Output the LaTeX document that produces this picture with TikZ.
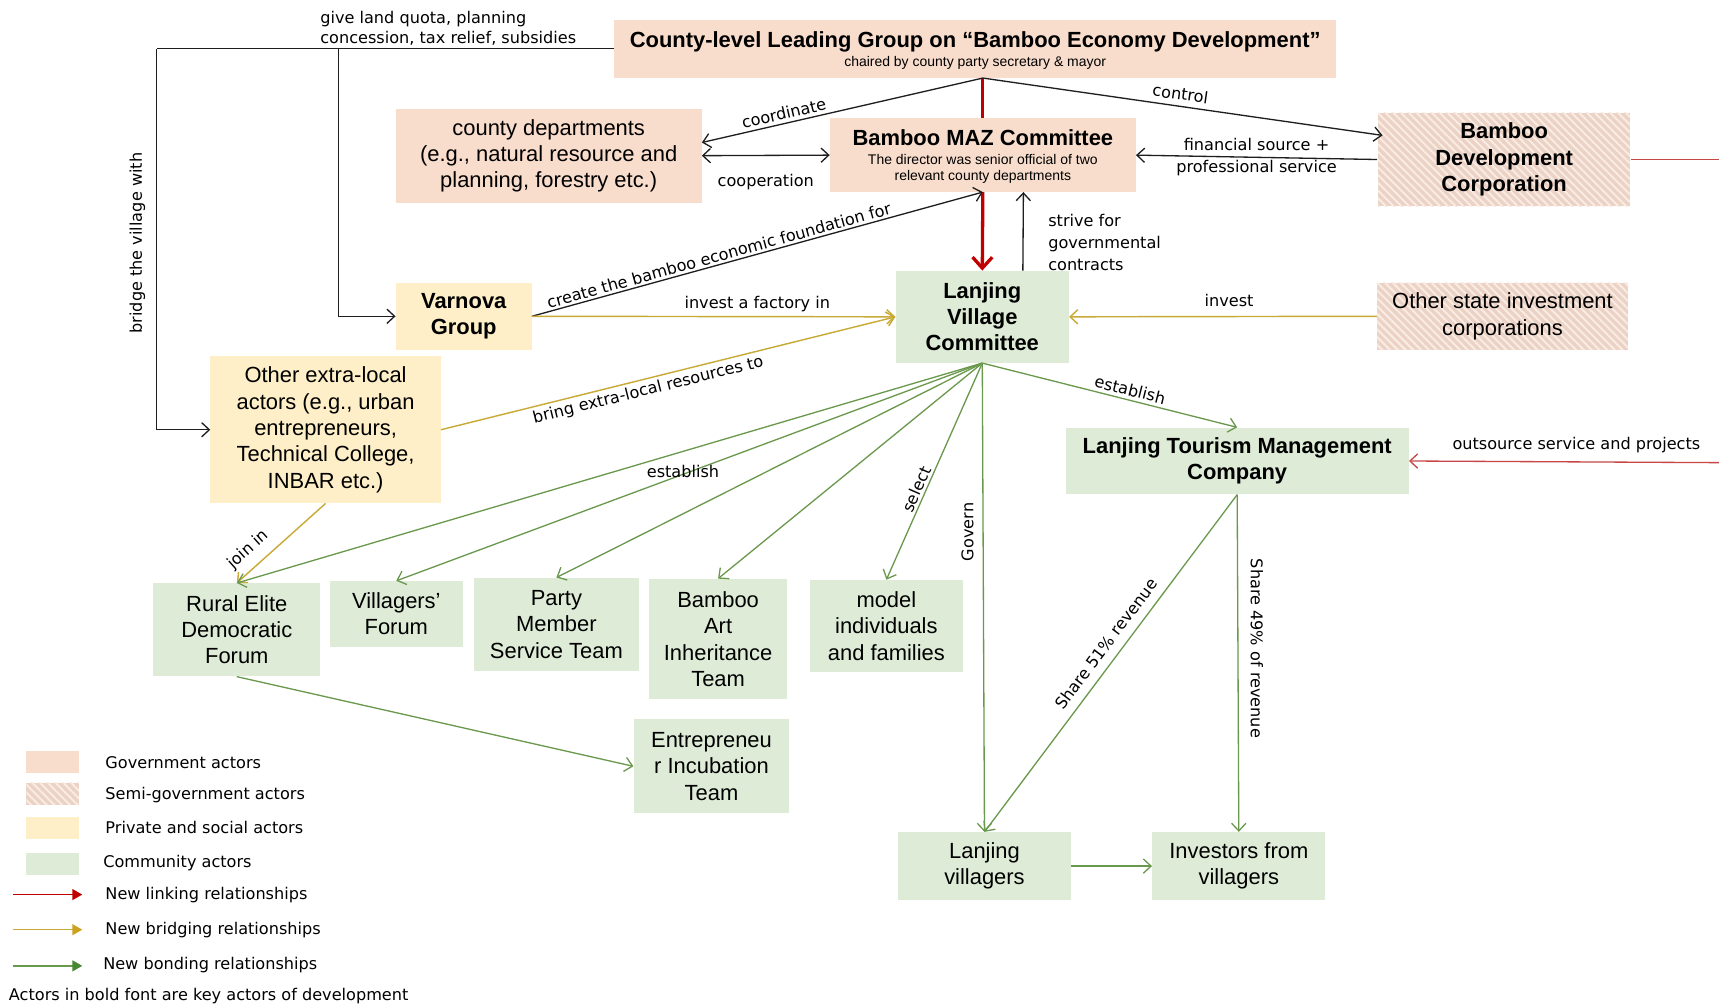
\documentclass[tikz,border=0pt]{standalone}
\usepackage{fontspec}
\setmainfont{Liberation Sans}
\newfontfamily\lblfont{DejaVu Sans}
\usetikzlibrary{arrows.meta,patterns.meta,calc}

\definecolor{govfill}{RGB}{249,221,204}
\definecolor{semibase}{RGB}{236,210,196}
\definecolor{semistripe}{RGB}{248,236,229}
\definecolor{privfill}{RGB}{254,239,200}
\definecolor{commfill}{RGB}{222,236,215}
\definecolor{lineblk}{RGB}{30,30,30}
\definecolor{grnline}{RGB}{106,153,78}
\definecolor{ylwline}{RGB}{200,170,55}
\definecolor{redthickc}{RGB}{192,0,0}
\definecolor{redthinc}{RGB}{200,70,70}
\definecolor{legred}{RGB}{192,0,0}
\definecolor{legylw}{RGB}{205,160,30}
\definecolor{leggrn}{RGB}{70,135,50}

\begin{document}
\begin{tikzpicture}[x=1pt,y=-1pt,
  box/.style={draw=none, align=center, inner sep=0pt, font=\fontsize{20}{24}\selectfont},
  gov/.style={box, fill=govfill},
  semi/.style={box, preaction={fill=semibase}, pattern={Lines[angle=-45,distance=5pt,line width=1.8pt]}, pattern color=semistripe},
  priv/.style={box, fill=privfill},
  comm/.style={box, fill=commfill},
  keyactor/.style={font=\bfseries\fontsize{20}{24}\selectfont},
  lbl/.style={font=\lblfont\fontsize{14.7}{19}\selectfont, inner sep=3pt, text=black},
  endarrow/.style={-{Straight Barb[length=7pt,width=13pt]}},
  blk/.style={draw=lineblk, line width=1.2pt},
  grn/.style={draw=grnline, line width=1.2pt, endarrow},
  ylw/.style={draw=ylwline, line width=1.3pt, endarrow},
  redthin/.style={draw=redthinc, line width=1.2pt},
  redthick/.style={draw=redthickc, line width=3pt},
  legbox/.style={minimum width=48pt, minimum height=20pt},
  legtext/.style={font=\lblfont\fontsize{14.7}{18}\selectfont, anchor=west, inner sep=0pt}
]
\fill[white] (0,0) rectangle (1568,918);
\useasboundingbox (0,0) rectangle (1568,918);

% ---------- actors ----------
\node[gov, minimum width=659pt, minimum height=53pt] (county) at (889.5,44.5) {};
\node[inner sep=0pt, font=\bfseries\fontsize{20}{24}\selectfont] (countyT) at (889.5,38)
  {County-level Leading Group on “Bamboo Economy Development”};
\node[inner sep=0pt, font=\fontsize{12.75}{15}\selectfont] (countyS) at (889.5,57.5)
  {chaired by county party secretary \& mayor};

\node[gov, minimum width=279pt, minimum height=86pt] (cdep) at (500.5,142)
  {county departments\\(e.g., natural resource and\\planning, forestry etc.)};

\node[gov, minimum width=279pt, minimum height=67pt] (maz) at (896.5,141.5) {};
\node[inner sep=0pt, font=\bfseries\fontsize{20}{24}\selectfont] (mazT) at (896.5,126) {Bamboo MAZ Committee};
\node[inner sep=0pt, align=center, font=\fontsize{12.75}{15}\selectfont] (mazS) at (896.5,154)
  {The director was senior official of two\\relevant county departments};

\node[semi, keyactor, minimum width=230pt, minimum height=85pt] (bdc) at (1372,145.5)
  {Bamboo\\Development\\Corporation};

\node[priv, keyactor, minimum width=124pt, minimum height=61pt] (varnova) at (423,288.5)
  {Varnova\\Group};

\node[comm, keyactor, minimum width=158pt, minimum height=84pt] (lvc) at (896,289)
  {Lanjing\\Village\\Committee};

\node[semi, minimum width=229pt, minimum height=61pt] (ostate) at (1370.5,288.5)
  {Other state investment\\corporations};

\node[priv, minimum width=210pt, minimum height=134pt] (extra) at (297,392)
  {Other extra-local\\actors (e.g., urban\\entrepreneurs,\\Technical College,\\INBAR etc.)};

\node[comm, keyactor, minimum width=313pt, minimum height=61pt] (ltmc) at (1128.5,420.5)
  {Lanjing Tourism Management\\Company};

\node[comm, minimum width=152pt, minimum height=85pt] (rural) at (216,574.5)
  {Rural Elite\\Democratic\\Forum};
\node[comm, minimum width=121pt, minimum height=60pt] (vforum) at (361.5,560)
  {Villagers’\\Forum};
\node[comm, minimum width=151pt, minimum height=85pt] (party) at (507.5,569.5)
  {Party\\Member\\Service Team};
\node[comm, minimum width=126pt, minimum height=110pt] (bart) at (655,583)
  {Bamboo\\Art\\Inheritance\\Team};
\node[comm, minimum width=139pt, minimum height=84pt] (model) at (808.5,571)
  {model\\individuals\\and families};
\node[comm, minimum width=142pt, minimum height=86pt] (entre) at (649,699)
  {Entrepreneu\\r Incubation\\Team};
\node[comm, minimum width=158pt, minimum height=62pt] (lvill) at (898,790)
  {Lanjing\\villagers};
\node[comm, minimum width=158pt, minimum height=62pt] (inv) at (1130,790)
  {Investors from\\villagers};

% ---------- county leading group: policy support ----------
\coordinate (lt) at (143,44.5);
\coordinate (vt) at (309,44.5);
\coordinate (ltb) at (lt |- extra.west);
\coordinate (cbot) at (maz.north |- county.south);
\draw[blk] (county.west) -- (lt);
\draw[blk, endarrow] (lt) -- node[lbl, pos=0.51, anchor=south, rotate=90, inner sep=10pt] (bridgeL) {bridge the village with} (ltb) -- (extra.west);
\draw[blk, endarrow] (vt) |- (varnova.west);
\node[lbl, anchor=south west, align=left, inner sep=0pt] (giveL) at (292,42)
  {give land quota, planning\\concession, tax relief, subsidies};

% ---------- linking ties ----------
\draw[redthick] (cbot) -- (maz.north);
\draw[redthick, -{Straight Barb[length=10pt,width=18pt]}] (maz.south) -- (lvc.north);

\draw[blk, endarrow] (cbot) -- node[lbl, sloped, above, pos=0.7] (coordL) {coordinate} ($(cdep.east)+(0,-12)$);
\draw[blk, endarrow] (cbot) -- node[lbl, sloped, above, pos=0.49, inner sep=5pt] (controlL) {control} ($(bdc.west)+(5,-22)$);
\draw[blk, {Straight Barb[length=7pt,width=13pt]}-{Straight Barb[length=7pt,width=13pt]}]
  (cdep.east) -- node[lbl, below=14pt] (coopL) {cooperation} (maz.west);
\draw[blk, endarrow] (bdc.west) -- node[lbl, align=center, font=\lblfont\fontsize{14.7}{20}\selectfont] (finL)
  {financial source +\\professional service} (maz.east);
\draw[blk, endarrow] (varnova.east) -- node[lbl, sloped, above, pos=0.42, inner sep=2pt] (createL)
  {create the bamboo economic foundation for} (maz.south);
\draw[blk, endarrow] ($(lvc.north)+(37,0)$) -- ($(maz.south)+(37,0)$);
\node[lbl, anchor=west, align=left, font=\lblfont\fontsize{14.7}{20}\selectfont] (striveL) at (953,221)
  {strive for\\governmental\\contracts};

% corporation outsourcing (runs off the right edge)
\coordinate (rtop) at (1568,145.5);
\coordinate (rbot) at (1568,422);
\draw[redthin] (bdc.east) -- (rtop);
\draw[redthin, endarrow] (rbot) -- node[lbl, above, pos=0.46, inner sep=8pt] (outL) {outsource service and projects} (ltmc.east);

% ---------- bridging ties ----------
\draw[ylw] (varnova.east) -- node[lbl, above, pos=0.62, inner sep=4pt] (factL) {invest a factory in} (lvc.west);
\draw[ylw] (ostate.west) -- node[lbl, above, pos=0.48, inner sep=8pt] (investL) {invest} (lvc.east);
\draw[ylw] (extra.east) -- node[lbl, sloped, below, pos=0.45] (bringL) {bring extra-local resources to} (lvc.west);
\draw[ylw] (extra.south) -- node[lbl, sloped, above, pos=0.74, inner sep=8pt] (joinL) {join in} (rural.north);

% ---------- bonding ties ----------
\draw[grn] (lvc.south) -- (rural.north);
\draw[grn] (lvc.south) -- (vforum.north);
\draw[grn] (lvc.south) -- (party.north);
\draw[grn] (lvc.south) -- (bart.north);
\node[lbl] (estL) at (623,430) {establish};
\draw[grn] (lvc.south) -- node[lbl, sloped, above, pos=0.6, inner sep=2pt] (selectL) {select} (model.north);
\draw[grn] (lvc.south) -- node[lbl, pos=0.36, anchor=south, rotate=90, inner sep=8pt] (governL) {Govern} (lvill.north);
\draw[grn] (lvc.south) -- node[lbl, sloped, above, pos=0.57] (est2L) {establish} (ltmc.north);
\draw[grn] (rural.south) -- (entre.west);
\draw[grn] (ltmc.south) -- node[lbl, sloped, above, pos=0.47, inner sep=8pt] (s51L) {Share 51\% revenue} (lvill.north);
\draw[grn] (ltmc.south) -- node[lbl, pos=0.456, anchor=south, rotate=-90, inner sep=11pt] (s49L) {Share 49\% of revenue} (inv.north);
\draw[grn] (lvill.east) -- (inv.west);

% ---------- legend ----------
\node[gov, legbox] (lg1) at (48,695) {};
\node[semi, legbox] (lg2) at (48,724) {};
\node[priv, legbox] (lg3) at (48,755) {};
\node[comm, legbox] (lg4) at (48,788) {};
\node[legtext] (lt1) at (96,696) {Government actors};
\node[legtext] (lt2) at (96,725) {Semi-government actors};
\node[legtext] (lt3) at (96,755) {Private and social actors};
\node[legtext] (lt4) at (94,787) {Community actors};
\coordinate (la1) at (12,816); \coordinate (lb1) at (75,816);
\coordinate (la2) at (12,848); \coordinate (lb2) at (75,848);
\coordinate (la3) at (12,881); \coordinate (lb3) at (75,881);
\draw[draw=legred, line width=1.2pt, -{Triangle[length=9pt,width=10pt,fill=legred]}] (la1) -- (lb1);
\draw[draw=ylwline, line width=1.2pt, -{Triangle[length=9pt,width=10pt,color=legylw]}] (la2) -- (lb2);
\draw[draw=grnline, line width=1.2pt, -{Triangle[length=9pt,width=10pt,color=leggrn]}] (la3) -- (lb3);
\node[legtext] (lt5) at (96,816) {New linking relationships};
\node[legtext] (lt6) at (96,848) {New bridging relationships};
\node[legtext] (lt7) at (94,880) {New bonding relationships};
\node[legtext] (lt8) at (8,909) {Actors in bold font are key actors of development};
\end{tikzpicture}
\end{document}
